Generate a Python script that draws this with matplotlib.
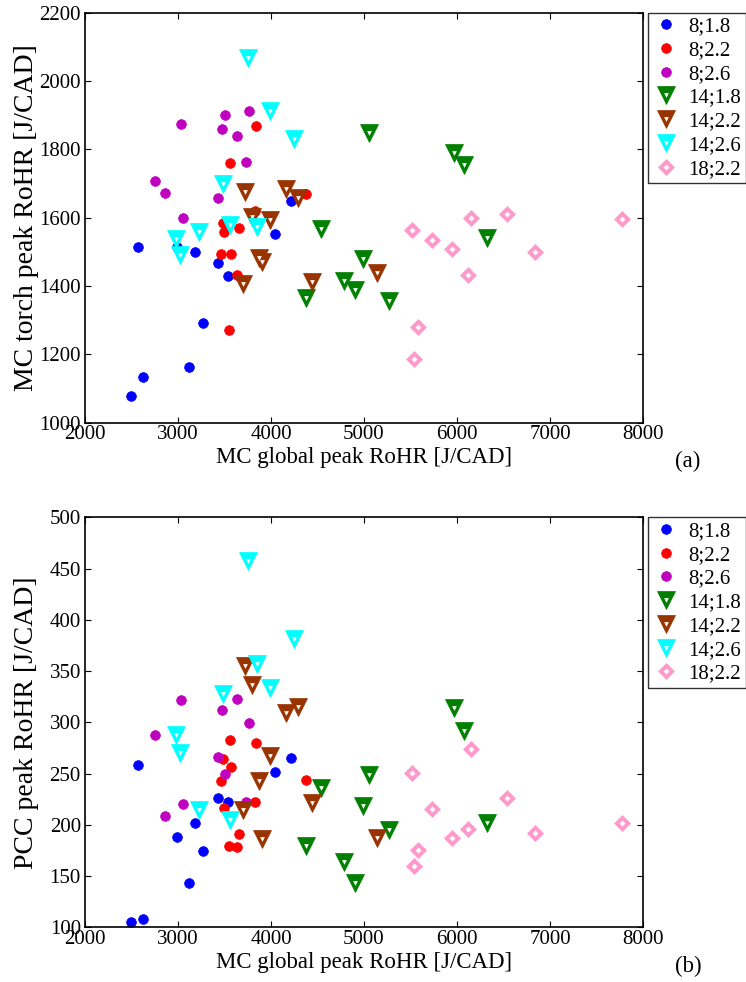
import matplotlib
matplotlib.use("Agg")
import matplotlib.pyplot as plt
from matplotlib.ticker import MultipleLocator

plt.rcParams['font.family'] = ['Liberation Serif', 'DejaVu Serif']

# ---- data ----
labels = ["8;1.8", "8;2.2", "8;2.6", "14;1.8", "14;2.2", "14;2.6", "18;2.2"]

x_8_18 = [2571, 2990, 3181, 3435, 3535, 3265, 3116, 2620, 2491, 4041, 4216]
torch_8_18 = [1515, 1513, 1500, 1468, 1430, 1293, 1162, 1135, 1078, 1552, 1650]
pcc_8_18 = [258, 188, 202, 226, 222, 174, 143, 108, 105, 252, 265]

x_8_22 = [3840, 3564, 4373, 3824, 3481, 3498, 3651, 3466, 3570, 3637, 3552]
torch_8_22 = [1869, 1761, 1668, 1620, 1585, 1557, 1569, 1493, 1493, 1432, 1271]
pcc_8_22 = [280, 283, 244, 222, 264, 216, 191, 243, 256, 178, 179]

x_8_26 = [3030, 3505, 3762, 3470, 3638, 3735, 2756, 2865, 3425, 3052]
torch_8_26 = [1873, 1902, 1912, 1860, 1840, 1762, 1707, 1672, 1657, 1600]
pcc_8_26 = [322, 250, 299, 312, 323, 222, 288, 209, 266, 220]

x_14_18 = [5057, 5968, 6077, 6327, 4991, 4790, 4905, 5264, 4380, 4538]
torch_14_18 = [1847, 1790, 1754, 1541, 1479, 1415, 1388, 1356, 1364, 1566]
pcc_14_18 = [249, 314, 292, 202, 218, 164, 143, 195, 179, 236]

x_14_22 = [3718, 3801, 4161, 4288, 3987, 3875, 3900, 4440, 3697, 5139]
torch_14_22 = [1676, 1603, 1683, 1657, 1593, 1482, 1470, 1413, 1406, 1437]
pcc_14_22 = [355, 336, 309, 315, 267, 243, 186, 221, 214, 187]

x_14_26 = [3754, 3990, 4245, 3484, 3562, 3853, 3224, 2975, 3020]
torch_14_26 = [2068, 1912, 1829, 1698, 1580, 1574, 1557, 1538, 1491]
pcc_14_26 = [457, 333, 381, 328, 205, 357, 214, 288, 270]

x_18_22 = [5512, 5732, 5941, 6150, 6541, 6840, 6114, 7771, 5578, 5536]
torch_18_22 = [1563, 1535, 1509, 1600, 1611, 1500, 1431, 1595, 1280, 1187]
pcc_18_22 = [251, 215, 187, 274, 226, 192, 196, 202, 175, 160]

xs = [x_8_18, x_8_22, x_8_26, x_14_18, x_14_22, x_14_26, x_18_22]
torch = [torch_8_18, torch_8_22, torch_8_26, torch_14_18, torch_14_22, torch_14_26, torch_18_22]
pcc = [pcc_8_18, pcc_8_22, pcc_8_26, pcc_14_18, pcc_14_22, pcc_14_26, pcc_18_22]

colors = ['#0000ff', '#ff0000', '#bf00bf', '#007f00', '#993300', '#00ffff', '#ff99cc']
markers = ['o', 'o', 'o', 'v', 'v', 'v', 'D']

W, H = 746, 982
fig = plt.figure(figsize=(W / 100, H / 100), dpi=100)


def fx(px):
    return px / W


def fy(py):
    return 1 - py / H


def make_panel(top_px, bottom_px, ydata, ylim, ystep, ylabel, tag):
    ax = fig.add_axes([fx(85), fy(bottom_px), fx(643) - fx(85), fy(top_px) - fy(bottom_px)])
    handles = []
    for x, y, c, m in zip(xs, ydata, colors, markers):
        if m == 'o':
            h, = ax.plot(x, y, linestyle='none', marker='o', ms=7, mfc=c, mec=c, mew=0.5)
            handles.append(h)
        elif m == 'v':
            h1, = ax.plot(x, y, linestyle='none', marker='v', ms=12.5, mfc=c, mec=c, mew=0.5)
            h2, = ax.plot(x, y, linestyle='none', marker='v', ms=3.4, mfc='white', mec='white', mew=0)
            handles.append((h1, h2))
        else:
            h1, = ax.plot(x, y, linestyle='none', marker='D', ms=8.5, mfc=c, mec=c, mew=0.5)
            h2, = ax.plot(x, y, linestyle='none', marker='D', ms=3.0, mfc='white', mec='white', mew=0)
            handles.append((h1, h2))
    ax.set_xlim(2000, 8000)
    ax.set_ylim(*ylim)
    ax.xaxis.set_major_locator(MultipleLocator(1000))
    ax.yaxis.set_major_locator(MultipleLocator(ystep))
    ax.tick_params(direction='in', top=True, right=True, length=4, width=0.8,
                   labelsize=15, pad=2)
    ax.tick_params(axis='y', pad=3)
    for s in ax.spines.values():
        s.set_linewidth(1.2)
    ax.set_xlabel("MC global peak RoHR [J/CAD]", fontsize=16.5)
    ax.xaxis.set_label_coords(0.5, -35.0 / (bottom_px - top_px))
    ax.xaxis.label.set_verticalalignment('center')
    ax.set_ylabel(ylabel, fontsize=20)
    ax.yaxis.set_label_coords((27 - 85) / 558, 0.5)
    ax.yaxis.label.set_verticalalignment('center')
    fig.text(fx(688), fy(bottom_px + 39), tag, fontsize=16.5, ha='center', va='center')
    leg = fig.legend(handles, labels, loc='upper left',
                     bbox_to_anchor=(fx(648), fy(top_px)), bbox_transform=fig.transFigure,
                     fontsize=15, numpoints=1, fancybox=False, frameon=True,
                     edgecolor='black', borderaxespad=0, borderpad=0.2,
                     labelspacing=0.2, handlelength=1.3, handletextpad=0.45)
    leg.get_frame().set_linewidth(1.0)
    return ax


make_panel(12.7, 422.7, torch, (1000, 2200), 200, "MC torch peak RoHR [J/CAD]", "(a)")
make_panel(517.3, 927.3, pcc, (100, 500), 50, "PCC peak RoHR [J/CAD]", "(b)")

fig.savefig("out.png", dpi=100)
